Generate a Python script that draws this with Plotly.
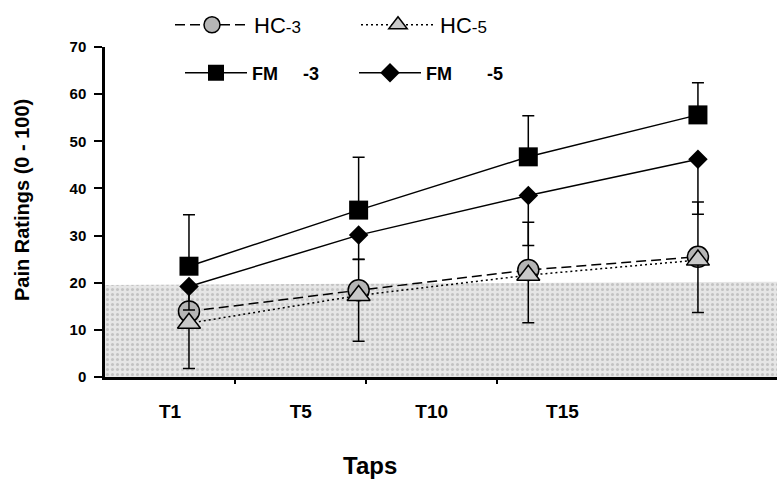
import plotly.graph_objects as go

# ---------------- data ----------------
categories = ["T1", "T5", "T10", "T15"]

hc3_mean = [13.9, 18.4, 22.7, 25.5]
hc3_sd_up = [5.5, 6.5, 10.1, 11.6]

hc5_mean = [11.4, 17.3, 21.6, 24.8]
hc5_sd_down = [9.6, 9.7, 10.1, 11.1]

fm3_mean = [23.5, 35.4, 46.7, 55.6]
fm3_sd_up = [10.9, 11.2, 8.7, 6.8]

fm5_mean = [19.2, 30.1, 38.5, 46.2]
fm5_sd_down = [5.0, 5.1, 10.6, 11.7]

normal_band_top = [19.5, 20.2]   # shaded band (left edge, right edge)

y_ticks = [0, 10, 20, 30, 40, 50, 60, 70]

# ---------------- style ----------------
FONT = "Liberation Sans, Arial, sans-serif"
W, H = 777, 481

x_idx = list(range(len(categories)))
LABEL_RANGE = [-0.497, 4.64]     # category-label axis (bottom)
DATA_RANGE = [-0.495, 3.466]     # data axis (overlay)


def label_to_data(v):
    f = (v - LABEL_RANGE[0]) / (LABEL_RANGE[1] - LABEL_RANGE[0])
    return DATA_RANGE[0] + f * (DATA_RANGE[1] - DATA_RANGE[0])


boundary_ticks = [label_to_data(i + 0.5) for i in x_idx[:-1]]

NB = "\u00a0"
fig = go.Figure()

# shaded band spanning the whole label axis
fig.add_trace(go.Scatter(
    x=[LABEL_RANGE[0], LABEL_RANGE[1], LABEL_RANGE[1], LABEL_RANGE[0]],
    y=[0, 0, normal_band_top[1], normal_band_top[0]],
    xaxis="x", yaxis="y", mode="lines", line=dict(width=0),
    fill="toself", fillcolor="#e2e2e2",
    fillpattern=dict(shape=".", fgcolor="#a0a0a0", bgcolor="#e6e6e6", size=5, solidity=0.3),
    hoverinfo="skip", showlegend=False))

fig.add_trace(go.Scatter(
    x=x_idx, y=hc3_mean, name="HC<span style='font-size:17px'>-3</span>",
    mode="lines+markers", legend="legend", xaxis="x2",
    line=dict(color="black", width=1.5, dash="10px,5px"),
    marker=dict(symbol="circle", size=21, color="#b5b5b5", line=dict(color="black", width=1.5)),
    error_y=dict(type="data", symmetric=False, array=hc3_sd_up, arrayminus=[0] * 4,
                 color="black", thickness=1.5, width=6)))

fig.add_trace(go.Scatter(
    x=x_idx, y=hc5_mean, name="HC<span style='font-size:17px'>-5</span>",
    mode="lines+markers", legend="legend", xaxis="x2",
    line=dict(color="black", width=1.5, dash="2px,3px"),
    marker=dict(symbol="triangle-up", size=20, color="#c9c9c9", line=dict(color="black", width=1.5)),
    error_y=dict(type="data", symmetric=False, array=[0] * 4, arrayminus=hc5_sd_down,
                 color="black", thickness=1.5, width=6)))

fig.add_trace(go.Scatter(
    x=x_idx, y=fm3_mean, name="<b>FM" + NB * 5 + "-3</b>",
    mode="lines+markers", legend="legend2", xaxis="x2",
    line=dict(color="black", width=1.5),
    marker=dict(symbol="square", size=19, color="black"),
    error_y=dict(type="data", symmetric=False, array=fm3_sd_up, arrayminus=[0] * 4,
                 color="black", thickness=1.5, width=6)))

fig.add_trace(go.Scatter(
    x=x_idx, y=fm5_mean, name="<b>FM" + NB * 7 + "-5</b>",
    mode="lines+markers", legend="legend2", xaxis="x2",
    line=dict(color="black", width=1.5),
    marker=dict(symbol="diamond", size=15, color="black"),
    error_y=dict(type="data", symmetric=False, array=[0] * 4, arrayminus=fm5_sd_down,
                 color="black", thickness=1.5, width=6)))

legend_common = dict(orientation="h", xanchor="left", yanchor="middle",
                     xref="container", yref="container",
                     bgcolor="rgba(0,0,0,0)", itemclick=False)

fig.update_layout(
    width=W, height=H,
    margin=dict(l=105, r=0, t=47, b=104, autoexpand=False),
    paper_bgcolor="white", plot_bgcolor="white",
    font=dict(family=FONT, color="black"),
    legend=dict(x=170 / W, y=1 - 25 / H, itemwidth=74, entrywidth=97,
                font=dict(family=FONT, size=22, color="black"), **legend_common),
    legend2=dict(x=180 / W, y=1 - 73 / H, itemwidth=62, entrywidth=97,
                 font=dict(family=FONT, size=18, color="black"), **legend_common),
    xaxis=dict(range=LABEL_RANGE, tickvals=x_idx, ticktext=categories,
               ticks="outside", ticklen=15, tickcolor="rgba(0,0,0,0)",
               showline=True, linewidth=3, linecolor="black",
               showgrid=False, zeroline=False,
               tickfont=dict(family=FONT, size=19, color="black", weight="bold")),
    xaxis2=dict(overlaying="x", anchor="y", range=DATA_RANGE, showline=False,
                showgrid=False, zeroline=False, showticklabels=False,
                tickvals=boundary_ticks, ticks="outside", ticklen=6, tickwidth=2,
                tickcolor="black"),
    yaxis=dict(range=[0, 70], tickvals=y_ticks, ticks="outside", ticklen=8, tickwidth=2,
               tickcolor="black", showline=True, linewidth=2.5, linecolor="black",
               showgrid=False, zeroline=False, ticklabelstandoff=5,
               tickfont=dict(family=FONT, size=15, color="black", weight="bold")),
    annotations=[
        dict(text="<b>Pain Ratings (0 - 100)</b>", textangle=-90, xref="paper", yref="paper",
             x=-83 / 672, y=(377 - 200) / 330, xanchor="center", yanchor="middle",
             showarrow=False, font=dict(family=FONT, size=20, color="black")),
        dict(text="<b>Taps</b>", xref="paper", yref="paper",
             x=(370 - 105) / 672, y=-(465 - 377) / 330, xanchor="center", yanchor="middle",
             showarrow=False, font=dict(family=FONT, size=24, color="black")),
    ],
)

# remove the browser's default 8px body margin so the figure fills the window exactly
fig.write_html("out.html", config={"displayModeBar": False},
               post_script="document.body.style.margin='0';")
